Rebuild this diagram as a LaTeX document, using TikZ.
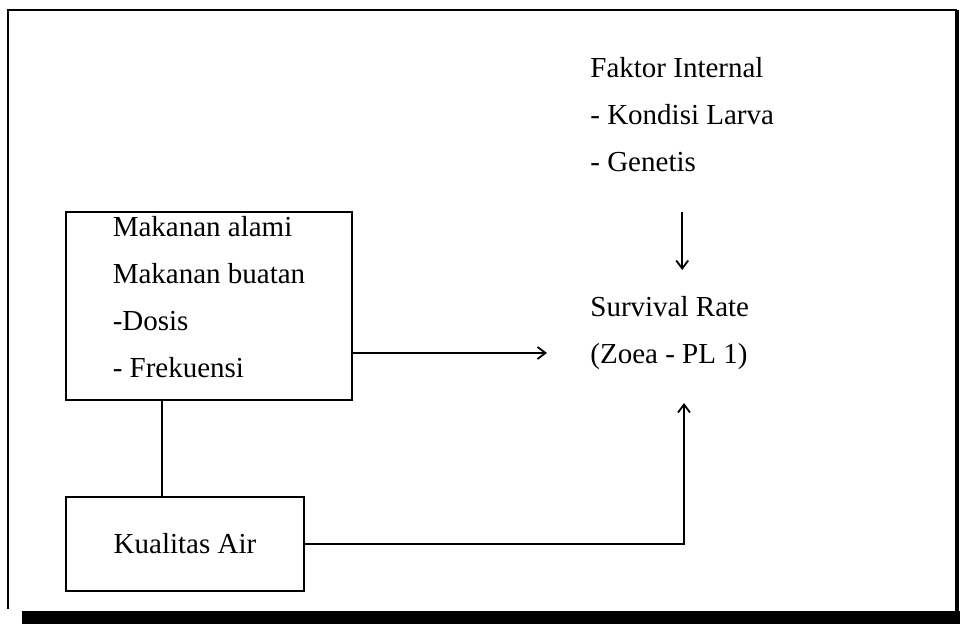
\documentclass[tikz,border=0pt]{standalone}
\usepackage{fontspec}
\setmainfont{Liberation Serif}
\usetikzlibrary{arrows.meta,positioning}

\begin{document}
\begin{tikzpicture}[
x=0.5pt,y=-0.5pt,
font=\fontsize{14.5}{23.5}\selectfont,
box/.style={draw,line width=1pt,align=left,inner sep=0pt},
txt/.style={align=left,inner sep=0pt},
arr/.style={-{Straight Barb[length=4pt,width=6pt]},line width=0.9pt}
]
\useasboundingbox (0,0) rectangle (960,625);
% frame
\draw[line width=1pt] (8,609) -- (8,10) -- (957,10);
\draw[line width=1.6pt] (957,10) -- (957,612);
\fill (22,611) rectangle (960,624);
% boxes and texts
\node[box,minimum width=143pt,minimum height=94pt] (makanan) at (209,306) {Makanan alami\\Makanan buatan\\-Dosis\\- Frekuensi\\[-14pt]\mbox{}};
\node[box,minimum width=119pt,minimum height=47pt] (air) at (185,544) {Kualitas Air};
\node[txt,anchor=north west] (faktor) at (590,57) {Faktor Internal\\- Kondisi Larva\\- Genetis};
\node[txt,anchor=north west] (survival) at (590,296) {Survival Rate\\(Zoea - PL 1)};
\coordinate (in1) at (547,353);
\coordinate (in3) at (684,403);
% connectors
\draw[arr] (makanan.east |- in1) -- (in1);
\draw[arr,shorten <=20pt,shorten >=13pt] (faktor.south) -- (faktor.south |- survival.north);
\draw[arr] (air.east) -| (in3);
\draw[line width=0.9pt] ([xshift=-11.5pt]air.north) -- ([xshift=-11.5pt]air.north |- makanan.south);
\end{tikzpicture}
\end{document}
